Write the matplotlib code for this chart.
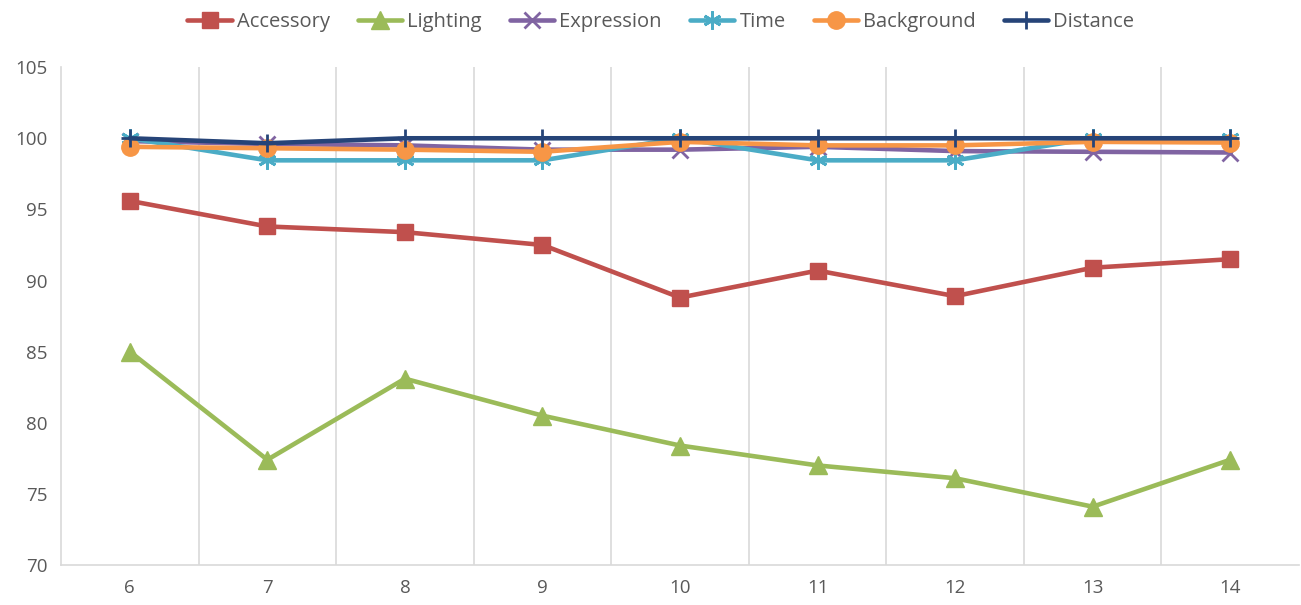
import matplotlib
matplotlib.use("Agg")
import matplotlib.pyplot as plt

categories = ["6", "7", "8", "9", "10", "11", "12", "13", "14"]
accessory = [95.6, 93.8, 93.4, 92.5, 88.8, 90.7, 88.9, 90.9, 91.5]
lighting = [85.0, 77.4, 83.1, 80.5, 78.4, 77.0, 76.1, 74.1, 77.4]
expression = [99.8, 99.6, 99.5, 99.2, 99.2, 99.4, 99.1, 99.05, 99.0]
time_vals = [100.0, 98.45, 98.45, 98.45, 100.0, 98.45, 98.45, 100.0, 100.0]
background = [99.4, 99.3, 99.2, 99.05, 99.75, 99.5, 99.5, 99.75, 99.7]
distance = [100.0, 99.65, 100.0, 100.0, 100.0, 100.0, 100.0, 100.0, 100.0]
y_ticks = [70, 75, 80, 85, 90, 95, 100, 105]

plt.rcParams['font.family'] = ['Open Sans', 'DejaVu Sans']

fig = plt.figure(figsize=(13.01, 6.05), dpi=100)
ax = fig.add_axes([0.0469, 0.0661, 0.9516, 0.8229])

x = list(range(len(categories)))
series = [
    ("Accessory", accessory, "#C0504D", dict(marker="s", markersize=12)),
    ("Lighting", lighting, "#9BBB59", dict(marker="^", markersize=13)),
    ("Expression", expression, "#8064A2", dict(marker="x", markersize=11, markeredgewidth=2)),
    ("Time", time_vals, "#4BACC6", dict(marker=(6, 2, 0), markersize=13, markeredgewidth=2)),
    ("Background", background, "#F79646", dict(marker="o", markersize=12.5)),
    ("Distance", distance, "#264478", dict(marker="+", markersize=13, markeredgewidth=2)),
]
for name, vals, col, mk in series:
    ax.plot(x, vals, color=col, linewidth=3.3, label=name, markerfacecolor=col,
            markeredgecolor=col, solid_capstyle="round", solid_joinstyle="round", **mk)

ax.set_xlim(-0.5, len(categories) - 0.5)
ax.set_ylim(70, 105)
ax.set_yticks(y_ticks)
ax.set_xticks(x)
ax.set_xticklabels(categories)
# vertical gridlines between categories
for b in range(1, len(categories)):
    ax.axvline(b - 0.5, color="#D9D9D9", linewidth=1.2, zorder=0)

for s in ["top", "right"]:
    ax.spines[s].set_visible(False)
for s in ["left", "bottom"]:
    ax.spines[s].set_color("#D9D9D9")
    ax.spines[s].set_linewidth(1.2)
ax.tick_params(axis="both", length=0, labelsize=13.5, colors="#595959", pad=10)

leg = fig.legend(loc="upper center", bbox_to_anchor=(0.508, 1.01), ncol=6, frameon=False,
                 fontsize=14.5, handlelength=2.2, columnspacing=1.4, handletextpad=0.25)
for t in leg.get_texts():
    t.set_color("#595959")

fig.savefig("out.png", dpi=100, facecolor="white")
